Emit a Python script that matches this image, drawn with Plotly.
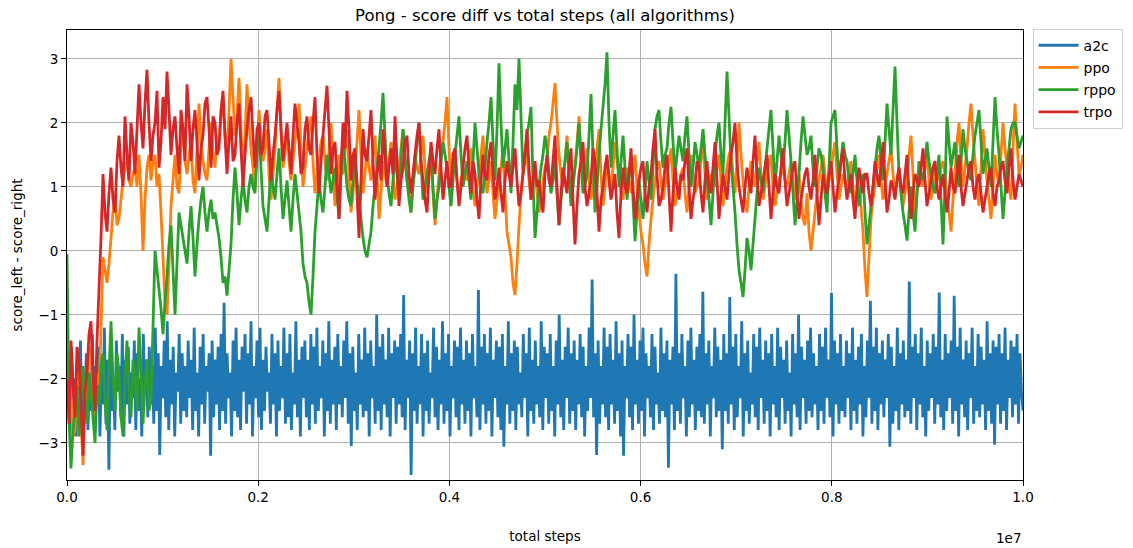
import numpy as np
import plotly.graph_objects as go

TOTAL_STEPS = 1e7

# Smoothed score difference (score_left - score_right) per algorithm
a2c = [
    -2.5, -1.8, -2.8, -1.5, -2.3, -2.0, -2.9, -1.7, -2.4, -1.4, -2.7, -1.9, -2.2, -1.6, -2.8, -2.0, -2.5, -1.3, -2.6, -1.8,
    -2.3, -1.5, -2.9, -1.9, -2.4, -1.2, -2.7, -1.7, -3.42, -1.6, -2.5, -2.0, -2.8, -1.4, -2.2, -1.8, -2.6, -1.3, -2.9, -1.7,
    -2.4, -1.5, -2.7, -1.9, -2.3, -1.4, -2.8, -1.6, -2.5, -2.0, -2.9, -1.3, -2.2, -1.7, -2.6, -1.5, -2.4, -1.8, -2.7, -1.2,
    -2.5, -1.6, -3.19, -1.8, -2.3, -1.4, -2.6, -1.1, -2.8, -1.7, -2.4, -1.5, -2.9, -1.9, -2.2, -1.3, -2.7, -1.6, -2.5, -1.8,
    -2.6, -1.4, -2.3, -1.7, -2.8, -1.2, -2.5, -1.9, -2.9, -1.5, -2.4, -1.3, -2.7, -1.8, -2.2, -1.6, -3.2, -1.4, -2.6, -1.7,
    -2.4, -1.5, -2.8, -1.3, -2.5, -0.81, -2.7, -1.6, -2.3, -1.9, -2.9, -1.4, -2.5, -1.2, -2.6, -1.7, -2.8, -1.5, -2.2, -1.3,
    -2.7, -1.6, -2.4, -1.1, -2.9, -1.8, -2.3, -1.4, -2.6, -1.2, -2.8, -1.7, -2.5, -1.5, -2.2, -1.9, -2.7, -1.3, -2.4, -1.6,
    -2.9, -1.4, -2.5, -1.8, -2.3, -1.2, -2.7, -1.6, -2.6, -1.3, -2.8, -1.9, -2.4, -1.1, -2.6, -1.7, -2.9, -1.5, -2.3, -1.4,
    -2.6, -1.7, -2.8, -1.3, -2.4, -1.5, -2.7, -1.2, -2.5, -1.8, -2.3, -1.4, -2.9, -1.6, -2.5, -1.1, -2.7, -1.7, -2.4, -1.5,
    -2.8, -1.3, -2.4, -1.8, -2.6, -1.4, -2.3, -1.1, -2.7, -1.6, -3.05, -1.5, -2.5, -1.9, -2.8, -1.3, -2.4, -1.7, -2.6, -1.2,
    -2.5, -1.6, -2.9, -1.4, -2.3, -1.8, -2.7, -1.0, -2.5, -1.5, -2.8, -1.3, -2.4, -1.7, -2.6, -1.2, -2.9, -1.6, -2.3, -1.4,
    -2.7, -1.5, -2.4, -1.3, -2.6, -0.69, -2.8, -1.7, -2.3, -1.4, -3.5, -1.6, -2.5, -1.2, -2.7, -1.8, -2.4, -1.3, -2.9, -1.6,
    -2.5, -1.4, -2.7, -1.9, -2.3, -1.2, -2.6, -1.5, -2.8, -1.7, -2.4, -1.1, -2.7, -1.6, -2.5, -1.3, -2.9, -1.8, -2.3, -1.4,
    -2.6, -1.5, -2.8, -1.2, -2.4, -1.7, -2.7, -1.4, -2.5, -1.6, -2.9, -1.3, -2.3, -1.8, -2.6, -0.61, -2.8, -1.5, -2.4, -1.3,
    -2.7, -1.6, -2.5, -1.2, -2.9, -1.7, -2.3, -1.4, -2.6, -1.5, -2.8, -1.3, -3.06, -1.8, -2.4, -1.1, -2.7, -1.6, -2.5, -1.4,
    -2.8, -1.5, -2.4, -1.9, -2.6, -1.3, -2.3, -1.6, -2.9, -1.2, -2.5, -1.7, -2.7, -1.4, -2.4, -1.8, -2.6, -1.1, -2.8, -1.5,
    -2.3, -1.6, -2.7, -1.3, -2.5, -1.8, -2.9, -1.4, -2.4, -1.0, -2.6, -1.7, -2.8, -1.5, -2.3, -1.2, -2.7, -1.6, -2.5, -1.4,
    -2.8, -1.7, -2.4, -1.3, -2.6, -1.5, -2.9, -1.8, -2.5, -1.2, -2.3, -0.45, -2.6, -1.6, -3.19, -1.4, -2.7, -1.8, -2.4, -1.2,
    -2.6, -1.5, -2.8, -1.3, -2.4, -1.7, -2.7, -1.1, -2.5, -1.6, -2.9, -1.4, -3.2, -1.8, -2.3, -1.3, -2.6, -1.5, -2.8, -1.0,
    -2.4, -1.7, -2.7, -1.4, -2.5, -1.2, -2.9, -1.6, -2.3, -1.8, -2.6, -1.3, -2.8, -1.5, -2.4, -1.9, -2.7, -1.2, -2.5, -1.6,
    -2.6, -1.4, -3.39, -1.7, -2.4, -1.5, -2.8, -0.36, -2.5, -1.6, -2.7, -1.3, -2.3, -1.8, -2.9, -1.4, -2.6, -1.2, -2.4, -1.7,
    -2.8, -1.5, -2.5, -1.3, -2.6, -0.64, -2.7, -1.6, -2.4, -1.4, -2.9, -1.8, -2.3, -1.2, -2.6, -1.5, -2.5, -1.7, -3.1, -1.3,
    -2.5, -1.6, -2.7, -0.72, -2.4, -1.5, -2.8, -1.3, -2.6, -1.8, -2.3, -1.1, -2.9, -1.6, -2.5, -1.4, -2.7, -1.9, -2.4, -1.3,
    -2.6, -1.5, -2.8, -1.2, -2.3, -1.7, -2.7, -1.4, -2.5, -1.6, -2.9, -1.3, -2.4, -1.8, -2.6, -1.2, -2.8, -1.5, -2.3, -1.7,
    -2.7, -1.4, -2.5, -1.9, -2.9, -1.3, -2.4, -1.6, -2.6, -1.0, -2.8, -1.5, -2.3, -1.7, -2.7, -1.4, -2.5, -1.2, -2.6, -1.6,
    -2.4, -1.8, -2.8, -1.3, -2.5, -1.5, -2.7, -1.2, -2.3, -1.7, -2.6, -0.66, -2.9, -1.4, -2.4, -1.6, -2.7, -1.3, -2.5, -1.8,
    -2.6, -1.4, -2.3, -1.6, -2.8, -1.2, -2.5, -1.7, -2.7, -1.5, -2.4, -1.3, -2.9, -1.8, -2.6, -1.4, -2.3, -0.78, -2.7, -1.5,
    -2.5, -1.2, -2.8, -1.6, -2.4, -1.4, -2.6, -1.7, -2.3, -1.3, -3.06, -1.5, -2.7, -1.8, -2.5, -1.2, -2.8, -1.6, -2.4, -1.4,
    -2.6, -1.7, -2.5, -0.48, -2.7, -1.5, -2.3, -1.3, -2.8, -1.6, -2.4, -1.2, -2.6, -1.8, -2.9, -1.4, -2.5, -1.6, -2.3, -1.3,
    -2.7, -1.5, -2.4, -0.65, -2.6, -1.7, -2.8, -1.3, -2.5, -1.6, -2.3, -1.4, -2.7, -0.7, -2.5, -1.5, -2.9, -1.2, -2.4, -1.7,
    -2.6, -1.4, -2.8, -1.6, -2.3, -1.2, -2.7, -1.8, -2.5, -1.3, -2.6, -1.5, -2.4, -1.7, -2.8, -1.1, -2.5, -1.6, -2.7, -1.4,
    -3.03, -1.5, -2.4, -1.3, -2.7, -1.6, -2.5, -1.2, -2.8, -1.7, -2.3, -1.4, -2.6, -1.5, -2.4, -1.3, -2.7, -1.6, -2.2, -2.5,
]

ppo = [
    -1.2, -1.8, -2.2, -2.9, -2.8, -2.0, -1.9, -2.6, -3.35, -2.1, -2.4, -1.5, -1.6, -2.3, -2.7, -1.9, -2.3, -1.2, -0.1, -0.3,
    -0.5, -0.2, 0.2, 0.6, 0.9, 0.4, 0.5, 0.8, 1.1, 1.3, 1.4, 1.1, 1.0, 1.2, 1.3, 1.0, 1.5, 0.9, 0.0, 0.8,
    1.3, 1.5, 1.1, 1.4, 1.5, 1.0, 1.2, 0.6, -0.1, -0.8, -1.0, -0.2, 0.7, 1.1, 1.5, 1.0, 0.9, 1.6, 2.0, 1.4,
    1.2, 1.5, 1.7, 1.1, 0.9, 1.6, 2.3, 1.7, 1.4, 1.2, 1.1, 1.6, 2.0, 1.5, 1.3, 1.8, 1.7, 2.1, 2.4, 1.8,
    1.5, 2.2, 3.0, 2.4, 1.8, 2.1, 2.7, 1.9, 1.2, 1.8, 2.6, 2.0, 1.6, 1.3, 1.0, 1.6, 2.2, 1.8, 1.4, 1.6,
    1.9, 1.2, 0.8, 1.2, 1.6, 2.2, 2.7, 1.9, 1.3, 1.5, 1.9, 1.4, 1.1, 1.4, 1.7, 2.0, 2.3, 1.6, 1.0, 1.3,
    1.6, 1.9, 2.1, 1.4, 0.9, 1.2, 1.4, 1.7, 1.8, 1.4, 1.1, 1.6, 2.0, 1.3, 0.7, 1.0, 1.5, 1.3, 1.2, 1.6,
    1.9, 1.2, 0.6, 0.9, 1.3, 1.7, 2.2, 1.5, 0.9, 1.2, 1.6, 1.3, 1.1, 1.5, 1.8, 1.2, 0.5, 0.9, 1.4, 1.2,
    1.0, 1.4, 1.7, 1.2, 0.8, 1.0, 1.3, 1.6, 1.9, 1.4, 1.1, 0.9, 0.6, 1.1, 1.5, 1.3, 1.2, 1.5, 1.8, 1.3,
    0.9, 1.2, 1.4, 0.9, 0.4, 0.8, 1.2, 1.5, 1.7, 2.0, 2.4, 1.6, 1.0, 1.3, 1.5, 1.1, 0.8, 1.1, 1.3, 1.2,
    1.1, 1.4, 1.6, 1.0, 0.7, 1.0, 1.2, 1.5, 1.8, 1.2, 0.9, 1.1, 1.4, 0.9, 0.5, 0.8, 1.0, 1.3, 1.6, 0.9,
    0.3, 0.1, -0.1, -0.5, -0.69, -0.2, 0.4, 0.9, 1.2, 1.4, 1.5, 1.1, 0.8, 1.0, 1.3, 0.9, 0.6, 0.8, 1.1, 1.3,
    1.4, 1.8, 2.0, 2.3, 2.62, 2.0, 1.5, 1.2, 1.0, 1.4, 1.8, 1.2, 0.9, 1.1, 1.3, 1.7, 2.1, 1.5, 1.1, 1.3,
    1.6, 1.1, 0.8, 1.0, 1.2, 1.6, 1.9, 1.2, 0.7, 1.0, 1.4, 1.2, 1.0, 1.3, 1.7, 1.4, 1.2, 0.9, 0.8, 1.1,
    1.3, 1.1, 0.9, 1.2, 1.5, 1.0, 0.6, 0.3, 0.1, -0.2, -0.4, 0.1, 0.5, 0.8, 1.1, 1.3, 1.4, 1.1, 0.8, 1.0,
    1.2, 1.4, 1.6, 1.1, 0.7, 0.9, 1.0, 1.2, 1.3, 0.9, 0.6, 1.0, 1.5, 1.2, 0.9, 1.0, 1.1, 1.4, 1.7, 1.2,
    0.8, 1.0, 1.2, 1.1, 1.0, 1.3, 1.5, 1.1, 0.7, 1.0, 1.3, 1.5, 1.6, 1.2, 0.9, 1.4, 2.0, 1.5, 1.1, 0.8,
    0.6, 1.0, 1.4, 1.2, 1.0, 1.4, 1.7, 1.2, 0.8, 1.0, 1.2, 1.4, 1.5, 1.0, 0.7, 0.9, 1.1, 1.2, 1.3, 1.1,
    1.0, 1.2, 1.4, 1.1, 0.8, 1.0, 1.2, 0.8, 0.5, 0.4, 0.9, 0.3, 0.0, 0.3, 0.6, 0.9, 1.1, 1.3, 1.5, 1.2,
    0.9, 1.1, 1.3, 1.5, 1.7, 1.2, 0.8, 1.0, 1.2, 1.1, 1.0, 1.2, 1.4, 1.0, 0.7, 0.9, 1.1, 0.7, 0.3, -0.3,
    -0.72, -0.1, 0.5, 0.8, 1.0, 1.3, 1.5, 1.1, 0.8, 1.0, 1.2, 1.4, 1.6, 1.2, 0.9, 1.1, 1.3, 1.0, 0.7, 0.9,
    1.1, 1.5, 1.8, 1.2, 0.6, 0.9, 1.2, 1.1, 1.0, 1.3, 1.5, 1.1, 0.8, 1.0, 1.3, 1.2, 1.1, 1.3, 1.4, 1.2,
    0.9, 0.6, 0.3, 0.8, 1.2, 1.7, 2.0, 1.4, 1.0, 1.3, 1.6, 2.0, 2.3, 1.8, 1.4, 1.0, 0.7, 1.3, 1.9, 1.5,
    1.1, 0.8, 0.5, 1.0, 1.5, 1.2, 1.0, 1.5, 2.0, 1.6, 1.3, 1.0, 0.8, 1.6, 2.3, 1.7, 1.2, 1.3, 1.5,
]

rppo = [
    -0.05, -2.6, -3.4, -2.8, -2.5, -2.1, -2.9, -2.3, -1.8, -2.4, -2.7, -1.9, -2.2, -2.6, -3.0, -2.1, -2.4, -1.8, -1.6, -2.3,
    -2.8, -1.9, -1.1, -2.0, -2.5, -1.6, -1.9, -2.6, -2.9, -2.0, -1.4, -2.2, -2.6, -1.7, -2.0, -2.5, -1.2, -1.9, -2.7, -2.1,
    -1.7, -2.5, -2.3, -1.2, 0.0, -0.3, -0.6, -0.9, -1.3, -0.8, -0.4, 0.1, 0.4, -0.3, -1.0, -0.2, 0.6, 0.4, 0.2, 0.0,
    -0.2, 0.3, 0.7, 0.2, -0.4, 0.1, 0.5, 0.8, 1.0, 0.6, 0.3, 0.6, 0.8, 0.5, 0.6, 0.4, 0.2, -0.1, -0.5, -0.4,
    -0.7, -0.3, 0.1, 0.8, 1.3, 0.9, 0.4, 0.8, 1.1, 0.8, 0.6, 1.0, 1.2, 1.0, 0.9, 1.5, 2.0, 1.3, 0.7, 0.5,
    0.3, 0.8, 1.3, 1.0, 0.8, 1.2, 1.6, 1.0, 0.5, 0.8, 1.1, 0.7, 0.3, 0.8, 1.2, 0.9, 0.6, 0.3, -0.2, -0.4,
    -0.5, -0.8, -1.0, -0.4, 0.3, 0.7, 1.1, 0.8, 0.6, 1.0, 1.5, 1.2, 0.9, 1.1, 1.3, 0.9, 0.5, 1.2, 1.8, 1.4,
    1.0, 0.8, 0.7, 1.1, 1.5, 1.1, 0.8, 0.5, 0.2, 0.0, -0.1, 0.1, 0.3, 0.7, 1.0, 1.3, 1.6, 2.0, 2.47, 1.8,
    1.2, 0.9, 0.7, 1.1, 1.5, 1.2, 0.9, 1.4, 1.9, 1.5, 1.1, 0.8, 0.6, 1.0, 1.3, 1.7, 2.0, 1.4, 0.8, 1.0,
    1.2, 1.4, 1.6, 1.0, 0.5, 0.8, 1.0, 1.4, 1.7, 1.5, 1.3, 1.0, 0.7, 1.1, 1.5, 1.8, 2.1, 1.5, 1.0, 1.2,
    1.4, 1.1, 0.8, 1.4, 2.0, 1.6, 1.2, 1.0, 0.9, 1.3, 1.7, 2.0, 2.4, 1.7, 1.1, 1.9, 2.93, 2.0, 1.3, 1.6,
    1.9, 1.4, 0.9, 1.7, 2.6, 2.2, 3.0, 2.1, 1.2, 1.5, 1.8, 2.0, 2.25, 1.1, 0.2, 0.6, 1.0, 1.3, 1.5, 1.8,
    1.6, 1.2, 0.9, 1.1, 1.4, 0.9, 0.4, 0.8, 1.1, 1.4, 1.7, 1.2, 0.7, 1.0, 1.3, 1.6, 2.0, 1.4, 0.9, 1.0,
    1.2, 1.8, 2.45, 1.5, 0.6, 1.0, 1.5, 1.9, 2.25, 2.6, 3.1, 2.0, 1.3, 1.8, 2.2, 1.6, 1.0, 1.4, 1.8, 1.3,
    0.8, 1.2, 1.5, 0.8, 0.15, 0.6, 1.1, 0.8, 0.5, 0.9, 1.4, 1.1, 0.8, 1.3, 1.9, 2.1, 2.2, 1.7, 1.3, 1.5,
    1.6, 2.0, 2.25, 1.7, 1.2, 1.5, 1.8, 1.6, 1.4, 1.8, 2.1, 1.5, 1.0, 1.3, 1.7, 1.5, 1.3, 1.6, 1.9, 1.5,
    1.1, 0.8, 0.4, 0.9, 1.5, 1.8, 2.0, 1.5, 1.2, 2.0, 2.8, 2.1, 1.4, 1.0, 0.6, 0.1, -0.3, -0.5, -0.72, -0.3,
    0.2, 0.0, -0.3, 0.1, 0.5, 0.9, 1.3, 1.1, 0.9, 1.3, 1.6, 1.9, 2.2, 1.6, 1.0, 1.4, 1.8, 1.5, 1.3, 1.7,
    2.2, 1.8, 1.4, 0.9, 0.4, 0.8, 1.2, 1.7, 2.1, 1.8, 1.5, 1.6, 1.8, 1.3, 1.0, 1.3, 1.6, 1.5, 1.3, 0.9,
    0.6, 1.3, 2.0, 2.1, 2.2, 1.6, 1.1, 1.4, 1.7, 1.5, 1.4, 1.1, 0.9, 1.2, 1.5, 1.1, 0.7, 1.0, 1.2, 0.6,
    0.1, 0.4, 0.7, 1.0, 1.3, 1.6, 1.8, 1.4, 1.1, 1.7, 2.3, 1.9, 1.5, 2.2, 2.88, 2.0, 1.2, 0.9, 0.6, 0.4,
    0.16, 0.6, 1.0, 0.6, 0.3, 0.9, 1.4, 1.2, 1.1, 1.4, 1.7, 1.4, 1.2, 1.0, 0.9, 1.2, 1.5, 0.8, 0.1, 1.0,
    2.1, 1.7, 1.3, 1.5, 1.7, 1.3, 1.0, 1.4, 1.9, 1.6, 1.4, 1.2, 1.1, 1.5, 1.8, 2.0, 2.2, 1.7, 1.2, 1.4,
    1.6, 1.3, 1.0, 1.7, 2.4, 1.9, 1.5, 1.0, 0.5, 0.9, 1.3, 1.6, 1.9, 2.0, 2.0, 1.8, 1.6, 1.7, 1.8,
]

trpo = [
    -2.0, -2.7, -1.4, -2.1, -2.6, -1.5, -1.7, -2.4, -3.2, -2.2, -1.9, -1.3, -1.1, -2.0, -2.5, -1.4, -0.6, 0.2, 1.2, 0.6,
    0.3, 0.9, 1.3, 0.8, 0.6, 1.4, 1.8, 1.3, 1.0, 2.1, 1.5, 1.1, 2.0, 1.7, 1.2, 1.9, 2.6, 2.0, 1.6, 2.3,
    2.83, 2.0, 1.4, 1.8, 2.0, 2.5, 1.3, 1.7, 2.4, 1.9, 2.8, 2.2, 1.5, 1.9, 2.1, 1.6, 1.2, 2.2, 1.9, 1.4,
    2.6, 2.1, 1.4, 1.9, 2.2, 1.7, 1.1, 1.6, 1.8, 2.3, 2.4, 1.9, 1.3, 2.1, 2.0, 1.5, 1.6, 2.2, 2.5, 1.8,
    1.2, 1.7, 2.1, 1.4, 1.5, 2.0, 2.3, 1.6, 1.0, 1.5, 1.9, 2.2, 2.4, 1.8, 1.3, 1.9, 2.0, 1.5, 1.6, 2.1,
    2.2, 1.7, 1.1, 1.5, 1.8, 2.2, 2.5, 1.9, 1.4, 1.7, 2.0, 1.6, 1.2, 1.8, 2.3, 2.0, 1.7, 1.2, 1.3, 1.9,
    2.1, 1.6, 1.5, 2.0, 2.4, 1.5, 0.9, 1.4, 1.8, 2.2, 2.58, 1.9, 1.2, 1.6, 1.7, 1.1, 0.5, 1.3, 2.0, 1.6,
    2.5, 1.9, 1.1, 1.5, 1.6, 0.9, 0.2, 1.1, 1.9, 1.5, 1.4, 1.8, 2.2, 1.4, 0.8, 1.2, 1.5, 1.1, 1.9, 1.5,
    1.0, 1.3, 1.6, 1.2, 2.1, 1.4, 0.7, 1.1, 1.3, 1.7, 1.8, 1.2, 0.9, 1.2, 1.5, 1.8, 2.0, 1.4, 1.1, 0.8,
    0.6, 1.2, 1.7, 1.4, 1.2, 1.6, 1.9, 1.3, 0.8, 1.1, 1.4, 1.0, 1.0, 1.5, 1.6, 1.1, 0.7, 1.0, 1.3, 1.6,
    1.8, 1.3, 0.9, 1.4, 1.2, 0.8, 0.5, 1.1, 1.5, 1.2, 1.1, 1.5, 1.7, 1.2, 0.8, 1.0, 1.3, 0.9, 0.6, 1.1,
    1.4, 1.2, 1.0, 1.3, 1.6, 1.1, 0.7, 0.9, 1.2, 1.5, 1.9, 1.3, 0.8, 1.1, 1.4, 1.0, 1.1, 0.8, 0.6, 1.2,
    1.5, 1.1, 1.0, 1.4, 1.8, 1.0, 0.4, 0.9, 1.3, 1.1, 0.9, 1.3, 1.6, 0.8, 0.1, 0.7, 1.2, 1.4, 1.7, 1.0,
    0.7, 0.9, 1.1, 1.6, 1.4, 0.9, 0.3, 0.8, 1.0, 1.3, 1.5, 1.1, 0.8, 1.0, 1.2, 0.6, 0.2, 0.9, 1.3, 1.0,
    0.9, 1.2, 1.6, 1.0, 0.5, 0.8, 1.1, 1.3, 1.4, 0.9, 0.6, 1.0, 1.2, 1.6, 1.9, 1.2, 0.7, 0.8, 1.0, 1.3,
    1.5, 0.9, 0.3, 0.9, 1.3, 1.0, 0.8, 1.2, 1.1, 1.4, 1.6, 1.0, 0.5, 0.8, 1.0, 1.4, 1.3, 0.9, 0.6, 1.1,
    1.4, 1.0, 0.9, 1.3, 1.7, 1.1, 0.5, 0.9, 1.2, 1.0, 0.8, 1.2, 1.5, 1.7, 2.0, 1.4, 1.0, 0.8, 0.6, 1.0,
    1.3, 1.1, 0.9, 1.4, 1.8, 1.2, 0.7, 0.9, 1.1, 1.3, 1.5, 1.0, 0.5, 0.9, 1.2, 1.0, 0.9, 1.3, 1.6, 1.1,
    0.7, 0.9, 1.1, 1.3, 1.4, 0.9, 0.5, 0.8, 1.0, 1.2, 1.3, 1.0, 0.8, 1.1, 1.5, 0.9, 0.4, 0.8, 1.2, 1.0,
    0.9, 1.2, 1.4, 1.0, 0.6, 0.9, 1.1, 1.4, 1.6, 1.1, 0.8, 1.0, 1.2, 0.8, 0.5, 1.0, 1.3, 1.1, 0.9, 1.2,
    1.2, 0.9, 0.7, 1.0, 1.4, 1.2, 1.0, 1.3, 1.7, 1.1, 0.6, 0.8, 1.1, 1.0, 0.8, 1.1, 1.3, 1.0, 0.9, 1.2,
    1.5, 0.9, 0.5, 0.9, 1.2, 1.1, 1.0, 1.3, 1.6, 1.1, 0.7, 0.9, 1.1, 1.3, 1.4, 1.0, 0.8, 1.0, 1.2, 0.9,
    0.6, 0.9, 1.3, 1.0, 0.9, 1.2, 1.5, 1.0, 0.7, 0.9, 1.1, 1.3, 1.4, 1.0, 0.8, 1.1, 1.2, 0.9, 0.6, 0.8,
    1.0, 1.2, 1.3, 0.9, 0.7, 1.0, 1.1, 1.3, 1.4, 1.1, 0.9, 1.3, 1.6, 1.1, 0.8, 1.0, 1.2, 1.1, 1.0,
]

series = [
    ("a2c", a2c, "#1f77b4"),
    ("ppo", ppo, "#ff7f0e"),
    ("rppo", rppo, "#2ca02c"),
    ("trpo", trpo, "#d62728"),
]

x_ticks = [0, 2e6, 4e6, 6e6, 8e6, 1e7]
x_tick_text = ["0.0", "0.2", "0.4", "0.6", "0.8", "1.0"]
y_ticks = [-3, -2, -1, 0, 1, 2, 3]
y_tick_text = ["\u22123", "\u22122", "\u22121", "0", "1", "2", "3"]

FONT = "DejaVu Sans"

fig = go.Figure()
for name, values, color in series:
    steps = np.linspace(0, TOTAL_STEPS, len(values))
    fig.add_trace(go.Scatter(
        x=steps, y=values, mode="lines", name=name, legendgroup=name,
        line=dict(color=color, width=2.8, simplify=False),
    ))

axis_common = dict(
    showline=True, linecolor="#000000", linewidth=1, mirror=True,
    showgrid=True, gridcolor="#b0b0b0", gridwidth=1,
    ticks="outside", ticklen=5, tickwidth=1, tickcolor="#000000",
    zeroline=False, automargin=False,
    tickfont=dict(family=FONT, size=13.5, color="#000000"),
)

fig.update_layout(
    width=1133, height=548,
    paper_bgcolor="white", plot_bgcolor="white",
    margin=dict(l=67, r=110, t=30, b=68, autoexpand=False),
    font=dict(family=FONT, color="#000000"),
    title=dict(
        text="Pong - score diff vs total steps (all algorithms)",
        x=(67 + 1023) / 2 / 1133, xanchor="center",
        y=1 - 15 / 548, yanchor="middle",
        font=dict(family=FONT, size=16.5, color="#000000"),
    ),
    xaxis=dict(
        range=[0, TOTAL_STEPS], tickvals=x_ticks, ticktext=x_tick_text,
        title=dict(text="total steps", font=dict(family=FONT, size=13.5), standoff=27),
        **axis_common,
    ),
    yaxis=dict(
        range=[-3.58, 3.45], tickvals=y_ticks, ticktext=y_tick_text,
        title=dict(text="score_left - score_right", font=dict(family=FONT, size=13.5), standoff=12),
        **axis_common,
    ),
    legend=dict(
        x=1.01, y=1.003, xanchor="left", yanchor="top",
        bordercolor="#d0d0d0", borderwidth=1, bgcolor="white",
        font=dict(family=FONT, size=14, color="#000000"),
        tracegroupgap=1, itemwidth=40,
    ),
    showlegend=True,
)

# scientific offset label of the x axis
fig.add_annotation(
    text="1e7", xref="paper", yref="paper", x=1.0, y=-0.128,
    xanchor="right", yanchor="middle", showarrow=False,
    font=dict(family=FONT, size=13.5, color="#000000"),
)

fig.write_html("out.html")
